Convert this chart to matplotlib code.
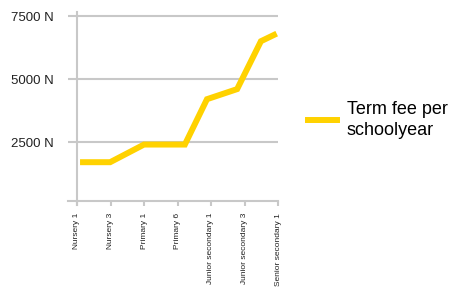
import matplotlib.pyplot as plt

# School stages shown on the x axis
stage_labels = ['Nursery 1', 'Nursery 3', 'Primary 1', 'Primary 6',
                'Junior secondary 1', 'Junior secondary 3', 'Senior secondary 1']

# Term fee points (stage position on the axis, fee in naira)
fee_stage = [0.18, 0.99, 2.0, 3.22, 3.88, 4.78, 5.49, 5.88]
fee_value = [1700, 1700, 2400, 2400, 4200, 4600, 6500, 6750]

y_ticks = [2500, 5000, 7500]

GOLD = '#FFD200'
GREY = '#C8C8C8'


def main():
    fig = plt.figure(figsize=(4.54, 2.90), dpi=100)
    ax = fig.add_axes([77 / 454, 1 - 201 / 290, 201 / 454, 189 / 290])

    ax.plot(fee_stage, fee_value, color=GOLD, lw=4.3, solid_joinstyle='miter',
            label='Term fee per\nschoolyear', zorder=3)

    ax.set_xlim(0, len(stage_labels) - 1)
    ax.set_ylim(160, 7660)

    ax.set_yticks(y_ticks)
    ax.set_yticklabels([f'{v} N' for v in y_ticks], family='Liberation Sans',
                       fontsize=9.5, color='#222222', ha='left')
    ax.yaxis.set_tick_params(pad=41, length=6.5, width=1.5, color=GREY)
    ax.grid(axis='y', color=GREY, lw=1.5)

    ax.set_xticks(range(len(stage_labels)))
    ax.set_xticklabels(stage_labels, rotation=90, fontsize=6, va='top',
                       ha='center', family='Liberation Sans', color='#222222')
    ax.xaxis.set_tick_params(length=3.6, width=1.5, color=GREY, pad=5)

    for side in ['top', 'right']:
        ax.spines[side].set_visible(False)
    for side in ['left', 'bottom']:
        ax.spines[side].set_color(GREY)
        ax.spines[side].set_linewidth(1.5)
    ax.spines['bottom'].set_bounds(ax.get_xlim()[0] - 0.27, ax.get_xlim()[1])
    ax.spines['left'].set_bounds(ax.get_ylim()[0] - 150, ax.get_ylim()[1])
    ax.set_axisbelow(True)

    leg = fig.legend(loc='center left', bbox_to_anchor=(308 / 454, 1 - 120 / 290),
                     frameon=False, handlelength=1.6, handletextpad=0.55,
                     borderaxespad=0, borderpad=0,
                     prop={'family': 'Liberation Sans', 'size': 13})
    for t in leg.get_texts():
        t.set_linespacing(1.35)

    fig.savefig('out.png', dpi=100)


if __name__ == '__main__':
    main()
